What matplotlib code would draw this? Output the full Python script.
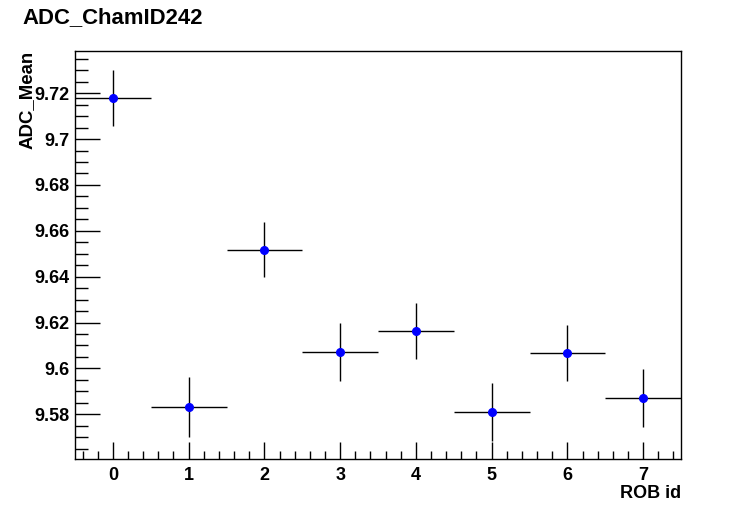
import matplotlib
matplotlib.use("Agg")
import matplotlib.pyplot as plt
from matplotlib.ticker import MultipleLocator, FuncFormatter

rob_id = [0, 1, 2, 3, 4, 5, 6, 7]
adc_mean = [9.7179, 9.5832, 9.6517, 9.6073, 9.6164, 9.5810, 9.6068, 9.5871]
adc_err = [0.0123, 0.0130, 0.0120, 0.0127, 0.0121, 0.0125, 0.0123, 0.0128]
x_err = [0.5] * 8

plt.rcParams['font.family'] = ['Liberation Sans', 'DejaVu Sans']
plt.rcParams['font.weight'] = 'bold'

fig = plt.figure(figsize=(7.56, 5.11), dpi=100)
W, H = 756, 511
ax = fig.add_axes([75 / W, 1 - 459 / H, (681 - 75) / W, (459 - 51) / H])

ax.errorbar(rob_id, adc_mean, yerr=adc_err, xerr=x_err, fmt='o', color='black',
            mfc='blue', mec='blue', ms=5.5, elinewidth=1, capsize=0)

ax.set_xlim(-0.5, 7.5)
ax.set_ylim(9.5605, 9.7384)

ax.xaxis.set_major_locator(MultipleLocator(1))
ax.xaxis.set_minor_locator(MultipleLocator(0.2))
ax.yaxis.set_major_locator(MultipleLocator(0.02))
ax.yaxis.set_minor_locator(MultipleLocator(0.005))

def yfmt(v, pos):
    s = f"{v:.2f}".rstrip('0').rstrip('.')
    return s
ax.yaxis.set_major_formatter(FuncFormatter(yfmt))

ax.tick_params(axis='both', which='both', direction='in', top=False, right=False,
               labelsize=13, width=1)
ax.tick_params(axis='x', which='major', length=12, pad=6)
ax.tick_params(axis='x', which='minor', length=6)
ax.tick_params(axis='y', which='major', length=18, pad=4)
ax.tick_params(axis='y', which='minor', length=9)
for lab in ax.get_xticklabels() + ax.get_yticklabels():
    lab.set_fontweight('bold')
for sp in ax.spines.values():
    sp.set_linewidth(1)

fig.text(22 / W, 1 - 18 / H, "ADC_ChamID242", fontsize=15.9, fontweight='bold',
         ha='left', va='center')
fig.text(27 / W, 1 - 51 / H, "ADC_Mean", fontsize=13.4, fontweight='bold',
         rotation=90, ha='center', va='top')
fig.text(681 / W, 1 - 493 / H, "ROB id", fontsize=13, fontweight='bold',
         ha='right', va='center')

fig.savefig("out.png", dpi=100)
